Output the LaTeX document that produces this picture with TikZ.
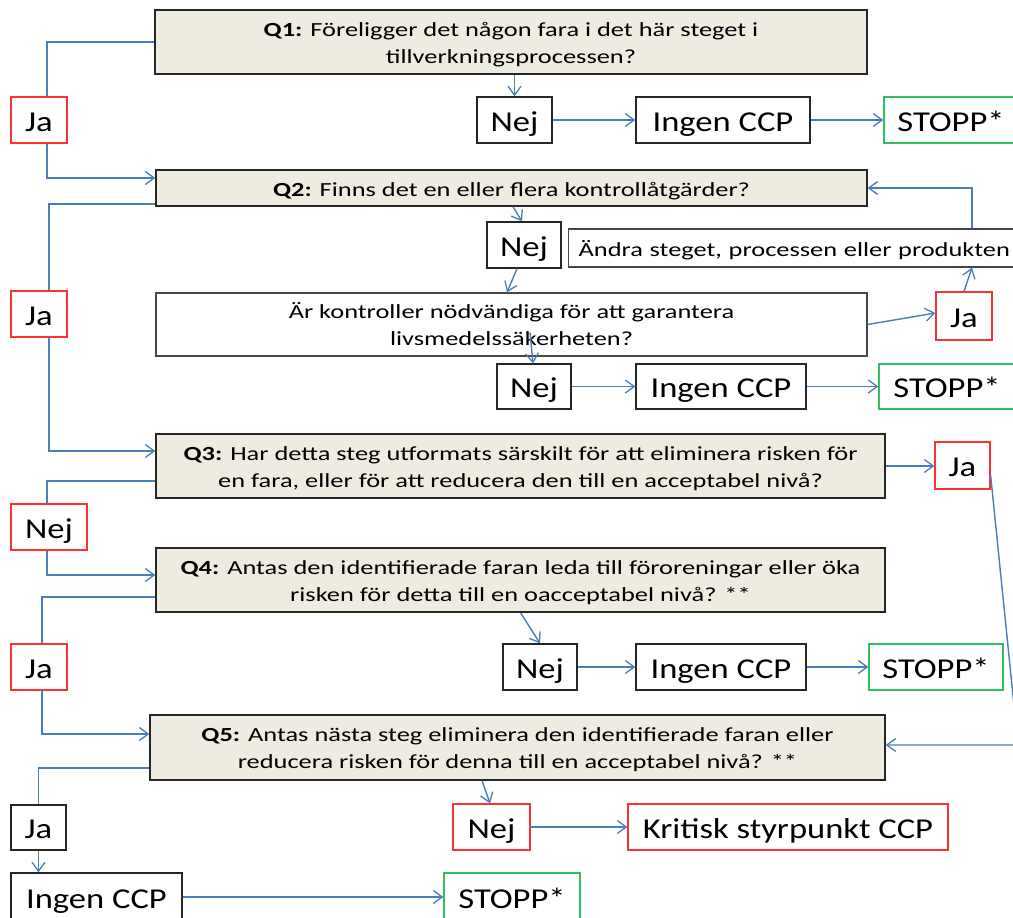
\documentclass[tikz,border=0pt]{standalone}
\usepackage{fontspec}
\setmainfont{Carlito}[FakeStretch=1.2]
\newfontfamily\qfont{Carlito}[FakeStretch=1.32]
\usetikzlibrary{arrows.meta}
\definecolor{conn}{HTML}{4A7EBB}
\definecolor{beige}{HTML}{EEECE1}
\definecolor{redb}{HTML}{FF3030}
\definecolor{greenb}{HTML}{2FBF5F}
\definecolor{darkb}{HTML}{262626}
\tikzset{
  base/.style={draw, line width=1.3pt, inner sep=0pt, align=center},
  twoline/.style={text height=46pt, text depth=4pt},
  oneline/.style={text height=18pt, text depth=2pt},
  qbox/.style={base, draw=darkb, fill=beige, font=\qfont\fontsize{20}{27}\selectfont},
  wbox/.style={base, draw=darkb!85, fill=white, font=\qfont\fontsize{20}{27}\selectfont},
  lbl/.style={base, draw=darkb, fill=white, font=\fontsize{28.8}{32}\selectfont, text height=22pt, text depth=0pt},
  redlbl/.style={lbl, draw=redb},
  greenlbl/.style={lbl, draw=greenb},
  line/.style={draw=conn, line width=1.4pt},
  arr/.style={line, -{Straight Barb[length=9pt,width=13pt,line width=1.3pt]}},
}
\begin{document}
\begin{tikzpicture}[x=1pt,y=-1pt]
\useasboundingbox (0,0) rectangle (1013,918);
\clip (0,0) rectangle (1013,918);
% boxes
\node[qbox, twoline, minimum width=712, minimum height=64] (q1) at (511,42) {\textbf{Q1:} Föreligger det någon fara i det här steget i\\tillverkningsprocessen?};
\node[redlbl, minimum width=56, minimum height=46] (ja1) at (39,120) {Ja};
\node[lbl, minimum width=75, minimum height=46] (nej1) at (514.5,120) {Nej};
\node[lbl, minimum width=174, minimum height=46] (ing1) at (723,120) {Ingen CCP};
\node[greenlbl, minimum width=134, minimum height=46] (stop1) at (951,120) {STOPP*};

\node[qbox, oneline, minimum width=711, minimum height=36] (q2) at (511.5,188) {\textbf{Q2:} Finns det en eller flera kontrollåtgärder?};
\node[redlbl, minimum width=56, minimum height=46] (ja2) at (39,314) {Ja};
\node[lbl, minimum width=74, minimum height=46] (nej2) at (524,245) {Nej};
\node[wbox, oneline, anchor=west, minimum width=462, minimum height=38, text width=442, inner xsep=10pt, align=left] (andra) at (568,248) {Ändra steget, processen eller produkten};
\node[wbox, twoline, minimum width=711, minimum height=63] (ar) at (511.5,324.5) {Är kontroller nödvändiga för att garantera\\livsmedelssäkerheten?};
\node[redlbl, minimum width=56, minimum height=48] (ja3) at (964,316) {Ja};
\node[lbl, minimum width=74, minimum height=45] (nej3) at (534,386.5) {Nej};
\node[lbl, minimum width=170, minimum height=45] (ing3) at (721,386.5) {Ingen CCP};
\node[greenlbl, minimum width=136, minimum height=45] (stop3) at (947,386.5) {STOPP*};

\node[qbox, twoline, minimum width=729, minimum height=64] (q3) at (520.5,466) {\textbf{Q3:} Har detta steg utformats särskilt för att eliminera risken för\\en fara, eller för att reducera den till en acceptabel nivå?};
\node[redlbl, minimum width=55, minimum height=47] (ja4) at (962.5,465.5) {Ja};
\node[redlbl, minimum width=76, minimum height=46] (nej4) at (49,527) {Nej};

\node[qbox, twoline, minimum width=729, minimum height=64] (q4) at (520.5,580) {\textbf{Q4:} Antas den identifierade faran leda till föroreningar eller öka\\risken för detta till en oacceptabel nivå? **};
\node[redlbl, minimum width=56, minimum height=46] (ja5) at (39,667) {Ja};
\node[lbl, minimum width=74, minimum height=46] (nej5) at (540,667) {Nej};
\node[lbl, minimum width=170, minimum height=46] (ing5) at (721,667) {Ingen CCP};
\node[greenlbl, minimum width=134, minimum height=46] (stop5) at (936,667) {STOPP*};

\node[qbox, twoline, minimum width=735, minimum height=65] (q5) at (517.5,747.5) {\textbf{Q5:} Antas nästa steg eliminera den identifierade faran eller\\reducera risken för denna till en acceptabel nivå? **};
\node[lbl, minimum width=55, minimum height=45] (ja6) at (38.5,827.5) {Ja};
\node[lbl, minimum width=171, minimum height=48] (ing6) at (96.5,897) {Ingen CCP};
\node[greenlbl, minimum width=136, minimum height=48] (stop6) at (512,897) {STOPP*};
\node[redlbl, minimum width=77, minimum height=46] (nej7) at (491.5,827) {Nej};
\node[redlbl, minimum width=320, minimum height=46] (krit) at (788,827) {Kritisk styrpunkt CCP};

% connectors
\draw[line] (q1.west) -| ([xshift=8pt]ja1.north);
\draw[arr] ([xshift=8pt]ja1.south) |- ([yshift=10pt]q2.west);
\draw[arr] (nej1.north |- q1.south) -- (nej1.north);
\draw[arr] (nej1) -- (ing1);
\draw[arr] (ing1) -- (stop1);

\draw[line] ([yshift=-16pt]q2.west) -| ([xshift=10pt]ja2.north);
\draw[arr] ([xshift=10pt]ja2.south) |- ([yshift=15pt]q3.west);
\draw[arr] ([xshift=1.5pt]q2.south) -- ([xshift=-2pt]nej2.north);
\draw[arr] (andra.north -| 972,0) |- (q2.east);
\draw[arr] ([xshift=-7pt]nej2.south) -- ([xshift=-4.5pt]ar.north);
\draw[arr] (ar.east) -- ([yshift=3pt]ja3.west);
\draw[arr] (ja3.north) -- (andra.south -| 972,0);
\draw[arr] ([xshift=18.5pt,yshift=-8pt]ar.center) -- ([xshift=-1pt]nej3.north);
\draw[arr] (nej3) -- (ing3);
\draw[arr] (ing3) -- (stop3);

\draw[arr] (q3.east) -- (q3.east -| ja4.west);
\draw[arr] ([yshift=-10pt]ja4.east) -- (1018,745) -- ([yshift=2.5pt]q5.east);
\draw[line] ([yshift=-15pt]q3.west) -| ([xshift=-2pt]nej4.north);
\draw[arr] ([xshift=-2pt]nej4.south) |- ([yshift=5pt]q4.west);

\draw[line] ([yshift=-17pt]q4.west) -| ([xshift=3pt]ja5.north);
\draw[arr] ([xshift=3pt]ja5.south) |- ([yshift=13.5pt]q5.west);
\draw[arr] (q4.south) -- (nej5.north);
\draw[arr] (nej5) -- (ing5);
\draw[arr] (ing5) -- (stop5);

\draw[line] ([yshift=-20.5pt]q5.west) -| (ja6.north);
\draw[arr] (ja6.south) -- (ja6.south |- ing6.north);
\draw[arr] (ing6) -- (stop6);
\draw[arr] ([xshift=-35.5pt]q5.south) -- ([xshift=-1.5pt]nej7.north);
\draw[arr] (nej7) -- (krit);
\end{tikzpicture}
\end{document}
